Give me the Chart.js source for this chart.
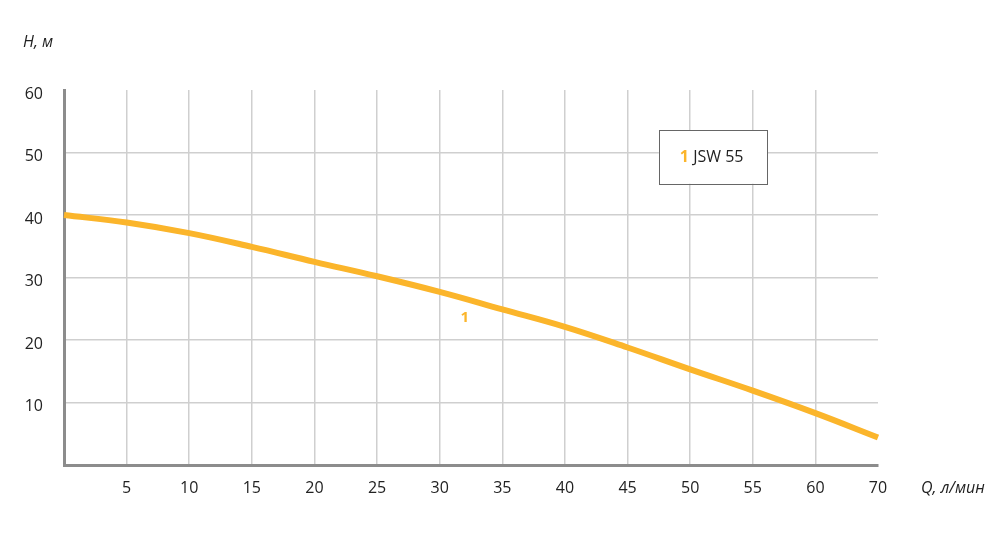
<!DOCTYPE html>
<html lang="ru">
<head>
<meta charset="utf-8">
<title>JSW 55</title>
<script src="https://cdn.jsdelivr.net/npm/chart.js@4.4.0/dist/chart.umd.min.js"></script>
<style>
  html, body { margin: 0; padding: 0; background: #fff; }
  #wrap { width: 1000px; height: 550px; position: relative; }
</style>
</head>
<body>
<div id="wrap"><canvas id="pumpChart"></canvas></div>
<script>
// Q, л/мин (последний шаг 60 -> 70 нарисован одной клеткой, как в оригинале)
const qLabels = [0, 5, 10, 15, 20, 25, 30, 35, 40, 45, 50, 55, 60, 70];
// H, м — кривая насоса JSW 55
const headValues = [40.0, 38.8, 37.1, 34.9, 32.5, 30.2, 27.7, 24.9, 22.1, 18.8, 15.3, 11.9, 8.3, 4.4];
const yTicks = [0, 10, 20, 30, 40, 50, 60];
const seriesName = 'JSW 55';
const seriesNo = '1';

const FONT = '"Open Sans", "Noto Sans", sans-serif';
const ORANGE = '#fbb52b';
const TEXT = '#222';

// подписи осей, номер кривой и рамка легенды
const extrasPlugin = {
  id: 'extras',
  afterDraw(chart) {
    const { ctx, chartArea, scales } = chart;
    const xs = scales.x, ys = scales.y;
    ctx.save();

    ctx.fillStyle = TEXT;
    ctx.font = 'italic 16px ' + FONT;
    ctx.textBaseline = 'middle';
    ctx.textAlign = 'left';
    ctx.fillText('H, м', 23, 42);
    ctx.fillText('Q, л/мин', chartArea.right + 43, chartArea.bottom + 23);

    // номер кривой у линии (Q≈32)
    ctx.fillStyle = ORANGE;
    ctx.font = 'bold 15px ' + FONT;
    ctx.textAlign = 'center';
    ctx.fillText(seriesNo, xs.getPixelForValue(6.4), ys.getPixelForValue(23.6));

    // легенда
    const bx = xs.getPixelForValue(9.5), bx2 = xs.getPixelForValue(11.23);
    const by = ys.getPixelForValue(53.6), by2 = ys.getPixelForValue(45.0);
    ctx.fillStyle = '#fff';
    ctx.fillRect(bx, by, bx2 - bx, by2 - by);
    ctx.strokeStyle = '#666';
    ctx.lineWidth = 1;
    ctx.strokeRect(Math.round(bx) + 0.5, Math.round(by) + 0.5, Math.round(bx2 - bx), Math.round(by2 - by));

    ctx.font = 'bold 16px ' + FONT;
    ctx.textAlign = 'left';
    const cy = (by + by2) / 2 + 1;
    let tx = bx + 21;
    ctx.fillStyle = ORANGE;
    ctx.fillText(seriesNo, tx, cy);
    tx += ctx.measureText(seriesNo + ' ').width;
    ctx.font = '16px ' + FONT;
    ctx.fillStyle = TEXT;
    ctx.fillText(seriesName, tx, cy);
    ctx.restore();
  }
};

new Chart(document.getElementById('pumpChart'), {
  type: 'line',
  data: {
    labels: qLabels.map(String),
    datasets: [{
      label: seriesName,
      data: headValues,
      borderColor: ORANGE,
      borderWidth: 6,
      pointRadius: 0,
      tension: 0.4,
      fill: false
    }]
  },
  options: {
    responsive: true,
    maintainAspectRatio: false,
    animation: false,
    layout: { padding: { left: 0, right: 122, top: 90, bottom: 0 } },
    plugins: { legend: { display: false }, tooltip: { enabled: false } },
    scales: {
      x: {
        type: 'category',
        offset: false,
        afterFit: (s) => { s.height = 85; },
        grid: {
          drawTicks: false,
          lineWidth: 1.5,
          color: (c) => (c.index === 0 || c.index === qLabels.length - 1) ? 'rgba(0,0,0,0)' : '#cfcfcf'
        },
        border: { color: '#8c8c8c', width: 3 },
        ticks: {
          autoSkip: false,
          maxRotation: 0,
          padding: 14,
          color: TEXT,
          font: { family: FONT, size: 16 },
          callback: (v, i) => i === 0 ? '' : qLabels[i]
        }
      },
      y: {
        min: 0,
        max: 60,
        afterFit: (s) => { s.width = 64; },
        afterBuildTicks: (s) => { s.ticks = yTicks.map(v => ({ value: v })); },
        grid: {
          drawTicks: false,
          lineWidth: 1.5,
          color: (c) => (c.tick.value === 0 || c.tick.value === 60) ? 'rgba(0,0,0,0)' : '#cfcfcf'
        },
        border: { color: '#8c8c8c', width: 3 },
        ticks: {
          padding: 21,
          labelOffset: 4,
          color: TEXT,
          font: { family: FONT, size: 16 },
          callback: (v) => v === 0 ? '' : v
        }
      }
    }
  },
  plugins: [extrasPlugin]
});
</script>
</body>
</html>
